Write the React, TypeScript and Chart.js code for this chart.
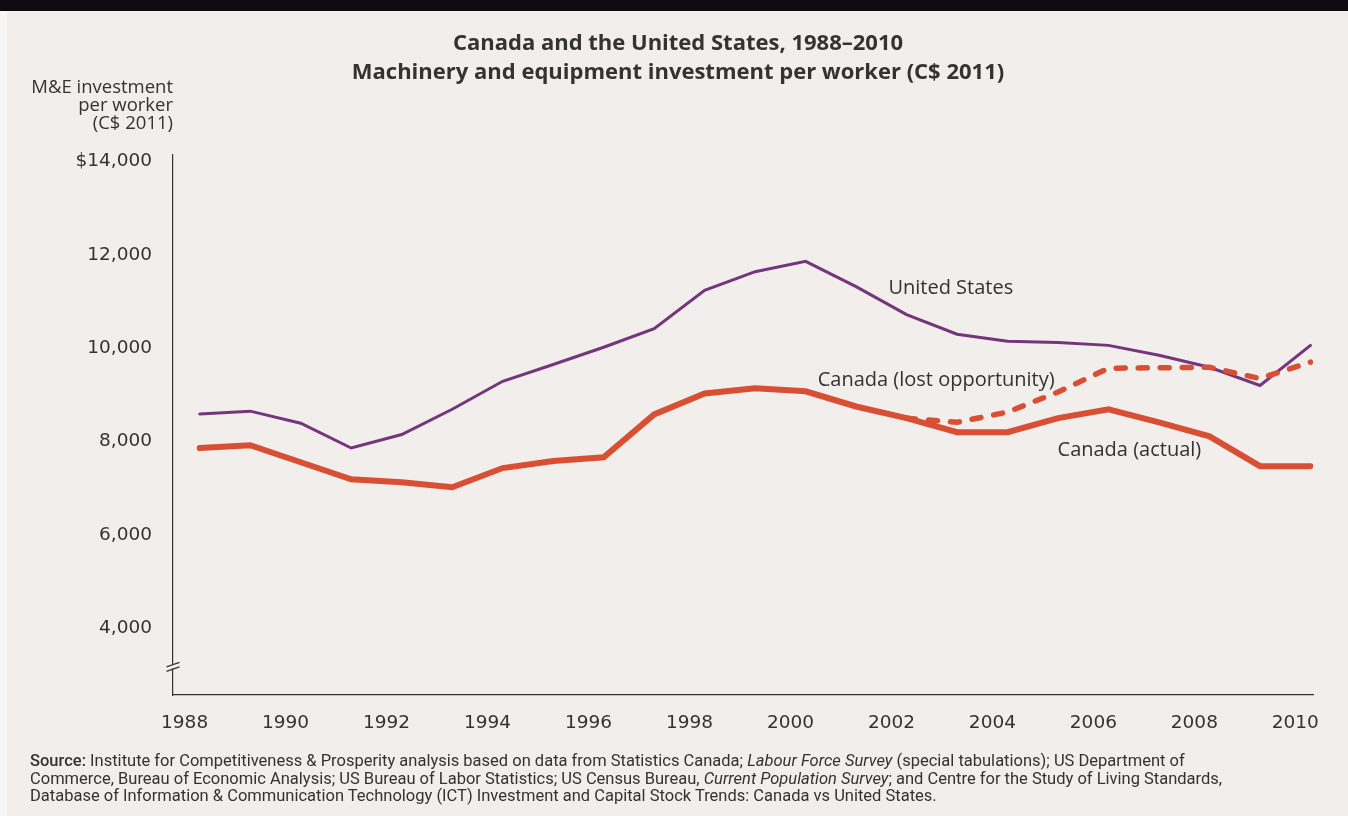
import React, { useEffect, useRef } from "react";
import { Chart, registerables } from "chart.js";

Chart.register(...registerables);

// ---------- data ----------
const years = [
  1988, 1989, 1990, 1991, 1992, 1993, 1994, 1995, 1996, 1997, 1998, 1999,
  2000, 2001, 2002, 2003, 2004, 2005, 2006, 2007, 2008, 2009, 2010,
];
const usValues = [
  8590, 8650, 8390, 7860, 8150, 8690, 9290, 9650, 10020, 10420, 11240, 11640,
  11860, 11320, 10720, 10300, 10150, 10120, 10060, 9850, 9590, 9200, 10060,
];
const canadaActual = [
  7860, 7920, 7555, 7190, 7125, 7020, 7430, 7580, 7660, 8580, 9030, 9140,
  9075, 8750, 8500, 8200, 8200, 8500, 8690, 8410, 8110, 7470, 7470,
];
const canadaLost = [
  null, null, null, null, null, null, null, null, null, null, null, null,
  null, null, 8500, 8410, 8630, 9060, 9570, 9580, 9590, 9350, 9700,
];
const seriesNames = ["United States", "Canada (actual)", "Canada (lost opportunity)"];

const xTickYears = [1988, 1990, 1992, 1994, 1996, 1998, 2000, 2002, 2004, 2006, 2008, 2010];
const xTickLabels = ["1988", "1990", "1992", "1994", "1996", "1998", "2000", "2002", "2004", "2006", "2008", "2010"];
const yTickValues = [4000, 6000, 8000, 10000, 12000, 14000];
const yTickLabels = ["4,000", "6,000", "8,000", "10,000", "12,000", "$14,000"];
const yAxisTitle = ["M&E investment", "per worker", "(C$ 2011)"];
const titleLines = [
  "Canada and the United States, 1988\u20132010",
  "Machinery and equipment investment per worker (C$ 2011)",
];

// ---------- styles ----------
const BG = "#f1eeeb";
const TEXT = "#333333";
const PURPLE = "#75357d";
const ORANGE = "#d84f34";
const FONT = "'Open Sans', Roboto, sans-serif";
const TICK_FONT = "'DejaVu Sans', 'Open Sans', sans-serif";
const SOURCE_FONT = "Roboto, 'Liberation Sans', sans-serif";

const overlayPlugin = {
  id: "overlay",
  afterDraw(chart: any) {
    const { ctx, chartArea } = chart;
    const x = chart.scales.x;
    const y = chart.scales.y;
    ctx.save();
    // horizontal y-axis title
    ctx.fillStyle = TEXT;
    ctx.font = `18.5px ${FONT}`;
    ctx.textAlign = "right";
    ctx.textBaseline = "middle";
    yAxisTitle.forEach((t, i) => ctx.fillText(t, chartArea.left, 88 + i * 18));

    // series labels placed on the plot
    ctx.font = `20px ${FONT}`;
    ctx.textAlign = "left";
    const anchors = [
      { text: seriesNames[0], xv: 2001.64, yv: 11280 },
      { text: seriesNames[2], xv: 2000.24, yv: 9320 },
      { text: seriesNames[1], xv: 2004.99, yv: 7800 },
    ];
    anchors.forEach((a) => ctx.fillText(a.text, x.getPixelForValue(a.xv), y.getPixelForValue(a.yv)));

    // axis break mark
    const by = y.getPixelForValue(3200);
    const bx = chartArea.left;
    ctx.fillStyle = BG;
    ctx.fillRect(bx - 1.5, by - 1.5, 3, 4.5);
    ctx.strokeStyle = TEXT;
    ctx.lineWidth = 1.1;
    ctx.beginPath();
    ctx.moveTo(bx - 6.5, by + 1.5);
    ctx.lineTo(bx + 6.5, by - 3);
    ctx.moveTo(bx - 6.5, by + 6);
    ctx.lineTo(bx + 6.5, by + 1.5);
    ctx.stroke();
    ctx.restore();
  },
};

export default function App() {
  const canvasRef = useRef<HTMLCanvasElement | null>(null);

  useEffect(() => {
    if (!canvasRef.current) return;
    const chart = new Chart(canvasRef.current, {
      type: "line",
      data: {
        datasets: [
          {
            label: seriesNames[2],
            data: years.map((yr, i) => ({ x: yr, y: canadaLost[i] })),
            borderColor: ORANGE,
            borderWidth: 5.5,
            borderDash: [9, 13],
            borderCapStyle: "round",
            pointRadius: 0,
            spanGaps: false,
            tension: 0,
          },
          {
            label: seriesNames[1],
            data: years.map((yr, i) => ({ x: yr, y: canadaActual[i] })),
            borderColor: ORANGE,
            borderWidth: 6,
            borderCapStyle: "round",
            pointRadius: 0,
            tension: 0,
          },
          {
            label: seriesNames[0],
            data: years.map((yr, i) => ({ x: yr, y: usValues[i] })),
            borderColor: PURPLE,
            borderWidth: 3,
            borderCapStyle: "round",
            pointRadius: 0,
            tension: 0,
          },
        ],
      },
      options: {
        responsive: false,
        animation: false,
        devicePixelRatio: 1,
        layout: { padding: { left: 43, right: 35, top: 0, bottom: 0 } },
        plugins: {
          legend: { display: false },
          tooltip: { enabled: false },
          title: {
            display: true,
            text: titleLines,
            color: TEXT,
            font: { family: FONT, size: 22, weight: "bold", lineHeight: 1.32 },
            padding: { top: 29, bottom: 67.5 },
          },
        },
        scales: {
          x: {
            type: "linear",
            min: 1987.47,
            max: 2010.05,
            grid: { display: false, drawTicks: false },
            border: { display: true, color: TEXT, width: 1.2 },
            afterBuildTicks: (scale: any) => {
              scale.ticks = xTickYears.map((v) => ({ value: v - 0.3 }));
            },
            afterFit: (scale: any) => {
              scale.height = 121;
            },
            ticks: {
              color: TEXT,
              font: { family: TICK_FONT, size: 18.5 },
              padding: 17,
              maxRotation: 0,
              autoSkip: false,
              callback: (_v: any, i: number) => xTickLabels[i],
            },
          },
          y: {
            type: "linear",
            min: 2565,
            max: 14150,
            grid: { display: false, drawTicks: false },
            border: { display: true, color: TEXT, width: 1.2 },
            afterBuildTicks: (scale: any) => {
              scale.ticks = yTickValues.map((v) => ({ value: v }));
            },
            afterFit: (scale: any) => {
              scale.width = 130;
            },
            ticks: {
              color: TEXT,
              font: { family: TICK_FONT, size: 18.5 },
              padding: 21,
              autoSkip: false,
              callback: (_v: any, i: number) => yTickLabels[i],
            },
          },
        },
      },
      plugins: [overlayPlugin],
    } as any);
    return () => chart.destroy();
  }, []);

  return (
    <div style={{ position: "fixed", inset: 0, background: BG, overflow: "hidden" }}>
      <div style={{ position: "absolute", left: 0, top: 10, width: 7, bottom: 0, background: "#f8f6f4" }} />
      <div style={{ position: "absolute", left: 0, top: 0, right: 0, height: 11, background: "#0b0b11" }} />
      <canvas
        ref={canvasRef}
        width={1348}
        height={816}
        style={{ position: "absolute", left: 0, top: 0, width: 1348, height: 816 }}
      />
      <div
        style={{
          position: "absolute",
          left: 30,
          top: 752,
          font: `16.5px ${SOURCE_FONT}`,
          lineHeight: "17.5px",
          color: TEXT,
          whiteSpace: "nowrap",
        }}
      >
        <span style={{ fontWeight: 500 }}>Source:</span> Institute for Competitiveness &amp; Prosperity analysis based on data from Statistics Canada; <i>Labour Force Survey</i> (special tabulations); US Department of
        <br />
        Commerce, Bureau of Economic Analysis; US Bureau of Labor Statistics; US Census Bureau, <i>Current Population Survey</i>; and Centre for the Study of Living Standards,
        <br />
        Database of Information &amp; Communication Technology (ICT) Investment and Capital Stock Trends: Canada vs United States.
      </div>
    </div>
  );
}
